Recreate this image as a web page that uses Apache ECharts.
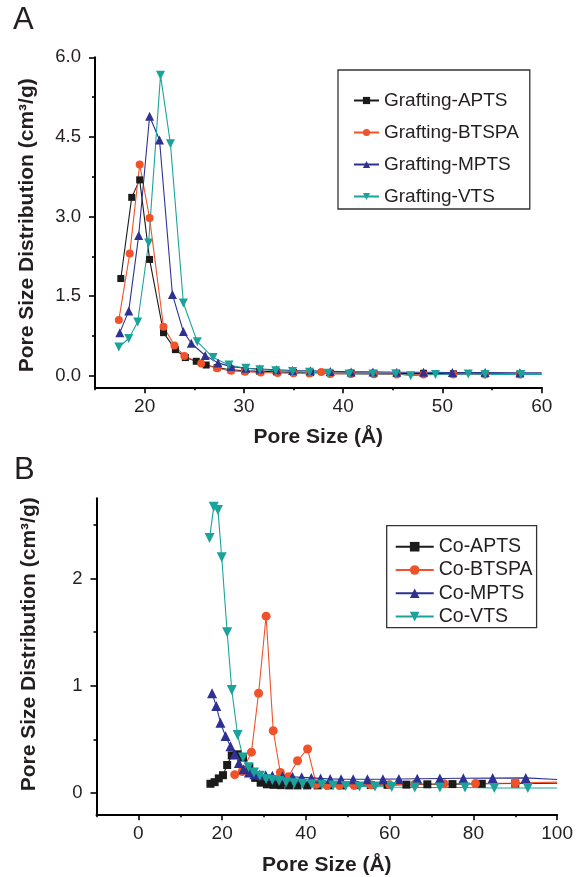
<!DOCTYPE html>
<html>
<head>
<meta charset="utf-8">
<script src="https://cdn.jsdelivr.net/npm/echarts@6/dist/echarts.min.js"></script>
<style>
  html, body { margin: 0; padding: 0; background: #ffffff; }
  #chart { width: 576px; height: 877px; }
</style>
</head>
<body>
<div id="chart"></div>
<script>
// ---- Panel A: grafted samples (pore size in Å, distribution in cm3/g) ----
const graftAptsX  = [17.6, 18.7, 19.5, 20.5, 21.9, 23.1, 24.1, 25.2, 26.2, 27.3, 28.7, 30.1, 31.6, 33.3, 35.0, 36.7, 38.7, 40.8, 43.1, 45.4, 48.1, 51.1, 54.3, 57.8, 60];
const graftAptsY  = [1.83, 3.36, 3.69, 2.19, 0.81, 0.49, 0.34, 0.27, 0.20, 0.15, 0.11, 0.09, 0.08, 0.07, 0.06, 0.055, 0.05, 0.05, 0.045, 0.04, 0.045, 0.035, 0.035, 0.03, 0.03];
const graftBtspaX = [17.4, 18.5, 19.5, 20.5, 21.9, 23.0, 24.0, 25.7, 27.3, 28.7, 30.1, 31.7, 33.4, 35.0, 36.6, 37.8, 38.7, 40.8, 43.1, 45.4, 48.1, 51.1, 54.3, 57.8, 60];
const graftBtspaY = [1.05, 2.30, 3.98, 2.97, 0.92, 0.57, 0.37, 0.23, 0.14, 0.09, 0.075, 0.06, 0.05, 0.045, 0.04, 0.07, 0.03, 0.03, 0.025, 0.02, 0.02, 0.02, 0.02, 0.02, 0.02];
const graftMptsX  = [17.5, 18.4, 19.4, 20.5, 21.5, 22.8, 23.9, 24.7, 26.1, 27.4, 28.7, 30.2, 31.6, 33.3, 34.9, 36.7, 38.7, 40.8, 43.0, 45.4, 48.1, 51.0, 54.3, 57.8, 60];
const graftMptsY  = [0.81, 1.22, 2.64, 4.89, 4.44, 1.53, 0.83, 0.61, 0.38, 0.24, 0.17, 0.14, 0.125, 0.11, 0.095, 0.09, 0.08, 0.07, 0.07, 0.065, 0.065, 0.06, 0.06, 0.055, 0.055];
const graftVtsX   = [17.4, 18.4, 19.3, 20.4, 21.6, 22.6, 23.9, 25.3, 26.9, 28.5, 30.2, 31.6, 33.2, 34.9, 36.6, 38.5, 40.6, 43.0, 45.3, 46.8, 49.3, 52.6, 54.3, 57.9, 60];
const graftVtsY   = [0.54, 0.70, 1.01, 2.50, 5.66, 4.37, 1.37, 0.64, 0.34, 0.20, 0.14, 0.11, 0.094, 0.08, 0.063, 0.045, 0.03, 0.03, 0.035, 0.0, 0.02, 0.03, 0.02, 0.02, 0.02];

// ---- Panel B: co-condensed samples ----
const coAptsX  = [17.2, 18.2, 19.2, 20.2, 21.2, 22.3, 23.6, 25.0, 26.5, 27.9, 29.2, 30.7, 32.3, 34.0, 36.0, 38.0, 40.3, 42.8, 45.5, 48.5, 51.8, 55.5, 59.5, 64.0, 69.0, 75.0, 82.0, 90.0, 100];
const coAptsY  = [0.085, 0.10, 0.135, 0.165, 0.26, 0.35, 0.36, 0.33, 0.24, 0.14, 0.095, 0.08, 0.075, 0.072, 0.07, 0.07, 0.07, 0.07, 0.07, 0.07, 0.072, 0.073, 0.075, 0.077, 0.08, 0.082, 0.085, 0.088, 0.09];
const coBtspaX = [23.0, 24.8, 27.0, 28.7, 30.5, 32.2, 33.9, 35.8, 38.0, 40.4, 42.5, 45.0, 48.0, 51.5, 55.5, 60.0, 66.0, 73.0, 80.5, 90.0, 100];
const coBtspaY = [0.17, 0.20, 0.38, 0.93, 1.65, 0.58, 0.19, 0.15, 0.30, 0.41, 0.08, 0.07, 0.07, 0.07, 0.075, 0.075, 0.08, 0.085, 0.088, 0.092, 0.10];
const coMptsX  = [17.6, 18.6, 19.6, 20.8, 22.0, 23.0, 24.0, 25.1, 26.4, 27.7, 29.0, 30.4, 32.0, 34.4, 36.8, 39.0, 41.3, 43.5, 45.8, 48.4, 51.3, 54.7, 58.4, 62.2, 66.6, 72.0, 77.6, 84.6, 92.5, 100];
const coMptsY  = [0.93, 0.81, 0.655, 0.53, 0.436, 0.36, 0.28, 0.22, 0.19, 0.175, 0.17, 0.165, 0.16, 0.155, 0.15, 0.145, 0.14, 0.135, 0.13, 0.128, 0.127, 0.127, 0.128, 0.13, 0.132, 0.134, 0.136, 0.138, 0.14, 0.125];
const coVtsX   = [17.0, 18.0, 19.0, 19.9, 21.2, 22.3, 23.7, 25.0, 26.3, 27.6, 29.0, 30.5, 32.0, 33.6, 35.3, 37.2, 39.2, 41.4, 43.8, 46.5, 49.5, 52.8, 56.5, 60.5, 66.0, 72.0, 78.0, 85.0, 93.0, 100];
const coVtsY   = [2.38, 2.67, 2.64, 2.20, 1.50, 0.96, 0.54, 0.33, 0.24, 0.19, 0.16, 0.13, 0.12, 0.11, 0.10, 0.09, 0.085, 0.08, 0.075, 0.07, 0.065, 0.06, 0.06, 0.055, 0.05, 0.05, 0.05, 0.045, 0.045, 0.045];

// ---- Tick positions ----
const aYMajor = [0, 1.5, 3, 4.5, 6];
const aYMinor = [0.75, 2.25, 3.75, 5.25];
const aXMajor = [20, 30, 40, 50, 60];
const aXMinor = [15, 25, 35, 45, 55];
const bYMajor = [0, 1, 2];
const bYMinor = [0.5, 1.5, 2.5];
const bXMajor = [0, 20, 40, 60, 80, 100];
const bXMinor = [-10, 10, 30, 50, 70, 90];

const FONT = '"Liberation Sans", Arial, Helvetica, sans-serif';
const INK = '#231f20';
const COLORS = { apts: '#1b1b1b', btspa: '#f0522a', mpts: '#2e3192', vts: '#1ba39b' };

// the last point of each curve only carries the line out to the axis end
function points(xs, ys) {
  return xs.map((x, i) => i === xs.length - 1
    ? { value: [x, ys[i]], symbol: 'none' }
    : [x, ys[i]]);
}

function majorAxis(gridIndex, dim, min, max, ticks, fmt, name, nameGap, labelSize, labelMargin, namePad) {
  return {
    type: 'value', gridIndex, min, max,
    position: dim === 'x' ? 'bottom' : 'left',
    axisLine: { show: true, onZero: false, lineStyle: { color: '#000', width: 2 } },
    axisTick: { show: true, inside: false, length: 6, customValues: ticks, lineStyle: { color: '#000', width: 1.6 } },
    axisLabel: { show: true, customValues: ticks, formatter: fmt, fontFamily: FONT, fontSize: labelSize, color: INK, margin: labelMargin },
    splitLine: { show: false },
    name, nameLocation: 'middle', nameGap,
    nameTextStyle: { fontFamily: FONT, fontWeight: 'bold', fontSize: 21, color: INK, padding: namePad || 0 }
  };
}

function minorAxis(gridIndex, dim, min, max, ticks) {
  return {
    type: 'value', gridIndex, min, max,
    position: dim === 'x' ? 'bottom' : 'left',
    axisLine: { show: false, onZero: false },
    axisTick: { show: true, inside: false, length: 3, customValues: ticks, lineStyle: { color: '#000', width: 1.6 } },
    axisLabel: { show: false },
    splitLine: { show: false }
  };
}

const fmtA = v => v.toFixed(1);
const fmtB = v => String(v);
const yName = 'Pore Size Distribution (cm\u00b3/g)';
const xName = 'Pore Size (\u00c5)';

function line(name, xs, ys, xi, yi, color, symbol, size, rotate) {
  return {
    type: 'line', name, xAxisIndex: xi, yAxisIndex: yi,
    data: points(xs, ys),
    symbol, symbolSize: size, symbolRotate: rotate || 0,
    showAllSymbol: true,
    lineStyle: { color, width: 1.1 },
    itemStyle: { color, borderWidth: 0 },
    emphasis: { disabled: true },
    z: 3
  };
}

const chart = echarts.init(document.getElementById('chart'), null, { renderer: 'canvas' });
chart.setOption({
  animation: false,
  backgroundColor: '#ffffff',
  grid: [
    { left: 95, top: 57.3, width: 446.7, height: 330, containLabel: false },
    { left: 96.5, top: 498.3, width: 462.8, height: 316, containLabel: false }
  ],
  xAxis: [
    majorAxis(0, 'x', 15, 60, aXMajor, fmtB, xName, 39, 19, 10),
    minorAxis(0, 'x', 15, 60, aXMinor),
    majorAxis(1, 'x', -10, 100, bXMajor, fmtB, xName, 40, 19, 10),
    minorAxis(1, 'x', -10, 100, bXMinor)
  ],
  yAxis: [
    majorAxis(0, 'y', -0.22, 6, aYMajor, fmtA, yName, 57, 18.5, 14, [0, 6, 0, 0]),
    minorAxis(0, 'y', -0.22, 6, aYMinor),
    majorAxis(1, 'y', -0.2, 2.75, bYMajor, fmtB, yName, 57, 18.5, 14, [0, 0, 0, 24]),
    minorAxis(1, 'y', -0.2, 2.75, bYMinor)
  ],
  legend: [
    {
      data: ['Grafting-APTS', 'Grafting-BTSPA', 'Grafting-MPTS', 'Grafting-VTS'],
      orient: 'vertical', left: 338, top: 70,
      padding: [21, 11, 3, 15],
      borderColor: '#333', borderWidth: 1.3,
      itemWidth: 25, itemHeight: 9, itemGap: 13,
      selectedMode: false,
      textStyle: { fontFamily: FONT, fontSize: 19, lineHeight: 19, color: INK }
    },
    {
      data: ['Co-APTS', 'Co-BTSPA', 'Co-MPTS', 'Co-VTS'],
      orient: 'vertical', left: 386.7, top: 525.7,
      padding: [11, 4, 1, 8],
      borderColor: '#333', borderWidth: 1.3,
      itemWidth: 38, itemHeight: 12, itemGap: 3.3,
      selectedMode: false,
      textStyle: { fontFamily: FONT, fontSize: 19.5, lineHeight: 20, color: INK }
    }
  ],
  graphic: [
    { type: 'text', left: 13, top: 5, style: { text: 'A', font: '31px ' + FONT, fill: INK } },
    { type: 'text', left: 14, top: 455, style: { text: 'B', font: '31px ' + FONT, fill: INK } }
  ],
  series: [
    line('Grafting-APTS', graftAptsX, graftAptsY, 0, 0, COLORS.apts, 'rect', 7),
    line('Grafting-BTSPA', graftBtspaX, graftBtspaY, 0, 0, COLORS.btspa, 'circle', 8),
    line('Grafting-MPTS', graftMptsX, graftMptsY, 0, 0, COLORS.mpts, 'triangle', 9),
    line('Grafting-VTS', graftVtsX, graftVtsY, 0, 0, COLORS.vts, 'triangle', 9, 180),
    line('Co-APTS', coAptsX, coAptsY, 2, 2, COLORS.apts, 'rect', 8),
    line('Co-BTSPA', coBtspaX, coBtspaY, 2, 2, COLORS.btspa, 'circle', 9),
    line('Co-MPTS', coMptsX, coMptsY, 2, 2, COLORS.mpts, 'triangle', 10),
    line('Co-VTS', coVtsX, coVtsY, 2, 2, COLORS.vts, 'triangle', 10, 180)
  ]
});
</script>
</body>
</html>
